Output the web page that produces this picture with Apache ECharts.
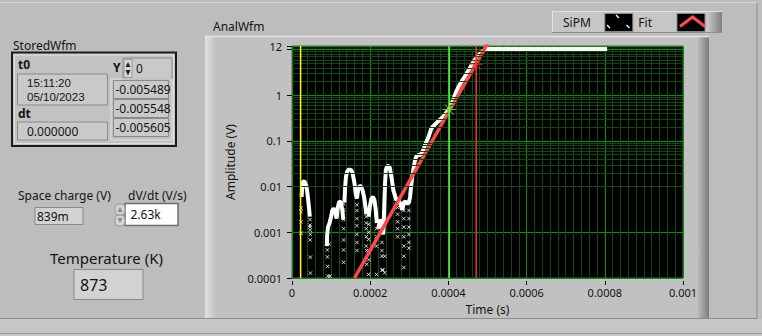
<!DOCTYPE html>
<html><head><meta charset="utf-8">
<script src="https://cdn.jsdelivr.net/npm/echarts@6/dist/echarts.min.js"></script>
<style>html,body{margin:0;padding:0;background:#bdbdbd;} #c{width:762px;height:336px;}</style>
</head><body><div id="c"></div>
<script>
const FONT = "'Noto Sans', 'Open Sans', sans-serif";

// ---- data ----
const timeRange = [0, 0.001];
const timeInterval = 0.0002;
const ampRange = [0.0001, 12];

// SiPM dense band (null = gap where the trace dives below the visible range / breaks into dots)
const sipmBandTime = [
  0.0000245,0.000026,0.000028,0.000031,0.000034,0.000037,0.00004,0.000042,0.000044,0.0000455,null,
  0.000089,0.00009,0.000092,0.000096,0.0001,0.000103,0.000106,0.00011,0.000114,0.000117,0.000121,0.000125,0.000129,0.000131,null,
  0.000134,0.000136,0.000138,0.000141,0.000145,0.00015,0.000154,0.000157,0.00016,0.000163,0.000166,0.000169,0.000173,0.000177,0.000181,0.000185,0.000188,0.00019,null,
  0.000196,0.000199,0.000203,0.000207,0.000211,0.000214,0.000217,null,
  0.00022,0.000224,0.000228,0.000231,0.000233,
  0.000234,0.000236,0.000238,0.00024,0.000243,0.000247,0.00025,0.000253,0.000256,0.000259,0.000263,0.000267,0.00027,0.000274,0.000278,0.000282,0.000286,0.00029,0.000295,0.000299,
  0.000302,0.000305,0.000308,0.000311,0.000314,0.000318,0.000323,0.000328,0.000332,0.000336,0.00034,0.000344,0.000348,0.000352,0.000356,0.000361,0.000366,0.000372,0.000378,0.000384,0.00039,0.000396,0.000402,
  0.000407,0.000412,0.000416,0.00042,0.000425,0.000431,0.000436,0.000442,0.000447,0.000453,0.000458,0.000463,0.000468,0.000473,0.000478,0.000484,0.000489,0.000493,0.000498,0.000502,0.000806
];
const sipmBandAmp = [
  0.006,0.0095,0.0126,0.0132,0.012,0.010,0.0065,0.0045,0.0031,0.0022,null,
  0.0005,0.0009,0.0013,0.0016,0.0022,0.003,0.0033,0.003,0.002,0.0035,0.0048,0.0045,0.003,0.0019,null,
  0.0045,0.010,0.0165,0.0215,0.0235,0.0235,0.021,0.016,0.0115,0.007,0.0055,0.0085,0.0105,0.010,0.008,0.0055,0.0035,0.0025,null,
  0.0022,0.0036,0.0055,0.006,0.005,0.0032,0.0016,null,
  0.0012,0.0016,0.0019,0.0013,0.0009,
  0.0012,0.004,0.012,0.023,0.028,0.0285,0.026,0.019,0.013,0.0085,0.0065,0.005,0.0055,0.0046,0.004,0.0031,0.0045,0.0047,0.0042,0.0045,
  0.006,0.011,0.018,0.025,0.036,0.046,0.049,0.050,0.054,0.064,0.080,0.098,0.115,0.145,0.185,0.21,0.23,0.26,0.29,0.32,0.37,0.43,0.49,
  0.62,0.79,0.98,1.2,1.48,1.83,2.15,2.55,3.05,3.7,4.4,5.2,6.0,6.8,7.7,8.6,9.3,9.8,10.2,10.3,10.3
];

// SiPM isolated samples (columns of dots)
const sipmDotTime = [
  0.000023,0.000023,0.000023,0.000023,
  0.000046,0.000046,0.0000462,0.0000465,0.0000465,0.0000468,0.000047,0.000047,
  0.0000905,0.0000905,0.000091,0.0000915,0.000095,0.000097,
  0.000132,0.000132,0.000132,0.000132,0.000132,0.000132,0.000132,
  0.000166,0.000166,0.000166,0.000166,0.000166,0.000166,0.000166,
  0.00019,0.00019,0.00019,0.00019,0.00019,0.000191,0.000191,
  0.000196,0.000196,0.000196,0.000196,0.000196,0.000196,
  0.000216,0.000216,0.000216,0.000216,
  0.00023,0.00023,0.00023,0.00023,0.000233,0.000237,0.000237,
  0.00027,0.00027,0.00027,0.00027,0.00027,
  0.000286,0.000286,0.000286,0.000286,0.000286,0.000286,0.000286,
  0.000299,0.000299,0.000299,0.000299,0.000299,0.000299
];
const sipmDotAmp = [
  0.0034,0.0028,0.0017,0.00096,
  0.0019,0.00144,0.0013,0.00111,0.00068,0.0009,0.000286,0.000128,
  0.00041,0.00029,0.00018,0.00011,0.00055,0.00011,
  0.0042,0.0031,0.0019,0.0012,0.00068,0.00041,0.00022,
  0.004,0.003,0.002,0.0014,0.0009,0.0006,0.0004,
  0.0022,0.0016,0.0012,0.0008,0.0005,0.0004,0.0002,
  0.0015,0.001,0.0007,0.0004,0.00025,0.00012,
  0.0012,0.0008,0.0005,0.00012,
  0.0006,0.0004,0.0003,0.00015,0.00015,0.0003,0.00013,
  0.0035,0.0025,0.0017,0.0012,0.0008,
  0.003,0.002,0.0013,0.0008,0.0005,0.0003,0.00017,
  0.003,0.002,0.0013,0.0009,0.0006,0.00045
];

// exponential fit
const fitTime = [0.00016,0.0002,0.00024,0.00028,0.00032,0.00036,0.0004,0.00044,0.00048,0.0005];
const fitAmp  = [0.0001,0.000402,0.00161,0.00649,0.0261,0.105,0.421,1.69,6.79,13.6];

// cursors: yellow, green (on SiPM), red (on Fit)
const cursorTime = [0.000022, 0.000402, 0.000471];
const cursorAmp  = [null, 0.49, 4.8];

// ---- build ----
const MAJOR = '#009400';
const MINOR = '#0d4a0d';
const zip = (a, b) => a.map((v, i) => [v, b[i]]);

const ampMinorGrid = [];
for (let e = -4; e <= 0; e++) for (let m = 2; m <= 9; m++) ampMinorGrid.push(+(m * Math.pow(10, e)).toPrecision(3));

const txt = (text, x, y, extra) => Object.assign({
  type: 'text', z: 50, style: Object.assign({text, x, y, fill: '#141414', fontFamily: FONT, fontSize: 12, verticalAlign: 'middle', align: 'left'}, extra || {})
});
const box = (x, y, w, h, fill, stroke, lw) => ({type: 'rect', z: -5, shape: {x, y, width: w, height: h}, style: {fill: fill, stroke: stroke || null, lineWidth: lw || 1}});
const line = (x1, y1, x2, y2, c, w) => ({type: 'line', z: -4, shape: {x1, y1, x2, y2}, style: {stroke: c, lineWidth: w || 1}});
const xmark = (cx, cy) => ({type: 'polyline', z: 60, shape: {points: [[cx-1.5, cy-1.5],[cx+1.5, cy+1.5]]}, style: {stroke: '#fff', lineWidth: 1.2}});

const graphic = [
  box(0, 0, 762, 336, '#bdbdbd'),
  line(0, 2.5, 757, 2.5, '#d6d6d6', 1),
  line(757, 3, 757, 318, '#8c8c8c', 1),
  line(0, 318.5, 757, 318.5, '#8c8c8c', 1),
  box(0, 319, 762, 17, '#c6c6c6'),
  line(0, 333.5, 762, 333.5, '#9a9a9a', 1),
  // graph frame
  box(205, 36, 504, 282, '#c1c1c1'),
  {type: 'rect', z: -4, shape: {x: 205, y: 36, width: 11, height: 282}, style: {fill: new echarts.graphic.LinearGradient(0, 0, 1, 0, [{offset: 0, color: '#e2e2e2'}, {offset: 1, color: '#c1c1c1'}])}},
  {type: 'rect', z: -4, shape: {x: 697, y: 36, width: 12, height: 282}, style: {fill: new echarts.graphic.LinearGradient(0, 0, 1, 0, [{offset: 0, color: '#c1c1c1'}, {offset: 1, color: '#7c7c7c'}])}},
  line(205, 36.5, 709, 36.5, '#e4e4e4', 1.5),
  // legend frame
  box(552, 11, 170, 22, '#c6c6c6'),
  {type: 'rect', z: -4, shape: {x: 708, y: 11, width: 14, height: 22}, style: {fill: new echarts.graphic.LinearGradient(0, 0, 1, 0, [{offset: 0, color: '#c6c6c6'}, {offset: 1, color: '#7e7e7e'}])}},
  line(552, 11.5, 722, 11.5, '#e2e2e2', 1),
  line(552.5, 11, 552.5, 33, '#e2e2e2', 1),
  line(552, 32.5, 722, 32.5, '#8e8e8e', 1),
  // legend icon details
  xmark(617.5, 16.5), xmark(608.5, 26.5), xmark(628, 26.5),
  {type: 'polyline', z: 60, shape: {points: [[680, 26.5],[692.5, 17],[705, 26.5]]}, style: {stroke: '#ff4b4b', lineWidth: 3}},
  // StoredWfm cluster
  box(12, 52.5, 164, 93.5, '#c2c2c2', '#1c1c1c', 2),
  box(14.5, 55, 159, 88.5, null, '#e0e0e0', 1),
  box(17.5, 74, 90, 31, '#c9c9c9', '#8a8a8a', 1),
  box(17.5, 122, 90, 18, '#c9c9c9', '#8a8a8a', 1),
  box(123, 58, 49, 21, '#c9c9c9', '#8a8a8a', 1),
  box(124, 59.5, 8, 18, '#d8d8d8', '#9a9a9a', 1),
  {type: 'polygon', z: 10, shape: {points: [[125.5, 67],[128, 62],[130.5, 67]]}, style: {fill: '#202020'}},
  {type: 'polygon', z: 10, shape: {points: [[125.5, 70],[128, 75.5],[130.5, 70]]}, style: {fill: '#202020'}},
  box(111, 79, 61, 61, null, '#dedede', 1),
  box(113.5, 80.5, 55, 18, '#c9c9c9', '#8a8a8a', 1),
  box(113.5, 99.5, 55, 18, '#c9c9c9', '#8a8a8a', 1),
  box(113.5, 118.5, 55, 18, '#c9c9c9', '#8a8a8a', 1),
  // bottom-left controls
  box(35, 207.5, 48, 17, '#d2d2d2', '#8a8a8a', 1),
  box(125, 203.5, 53, 22, '#ffffff', '#6e6e6e', 1.5),
  {type: 'rect', z: -3, shape: {x: 115, y: 204, width: 10, height: 11, r: 4}, style: {fill: '#d4d4d4', stroke: '#9a9a9a'}},
  {type: 'rect', z: -3, shape: {x: 115, y: 215, width: 10, height: 11, r: 4}, style: {fill: '#d4d4d4', stroke: '#9a9a9a'}},
  {type: 'polygon', z: 10, shape: {points: [[117.5, 212],[120, 207],[122.5, 212]]}, style: {fill: '#8a8a8a'}},
  {type: 'polygon', z: 10, shape: {points: [[117.5, 218],[120, 223],[122.5, 218]]}, style: {fill: '#8a8a8a'}},
  box(74, 269.5, 69, 30, '#d2d2d2', '#8a8a8a', 1),
  // texts
  txt('StoredWfm', 13, 45),
  txt('AnalWfm', 213, 26),
  txt('t0', 18, 64, {fontWeight: 'bold'}),
  txt('15:11:20', 27, 83, {fontFamily: "'Liberation Sans', Arial, sans-serif", fontSize: 11.5}),
  txt('05/10/2023', 27, 97, {fontFamily: "'Liberation Sans', Arial, sans-serif", fontSize: 11.5}),
  txt('dt', 18, 113.5, {fontWeight: 'bold'}),
  txt('0.000000', 27, 131),
  txt('Y', 113, 67, {fontWeight: 'bold'}),
  txt('0', 136, 68.5),
  txt('-0.005489', 115.5, 89.5),
  txt('-0.005548', 115.5, 108.5),
  txt('-0.005605', 115.5, 127.5),
  txt('Space charge (V)', 18, 195),
  txt('839m', 37, 216),
  txt('dV/dt (V/s)', 128, 195),
  txt('2.63k', 130.5, 214.5),
  txt('Temperature (K)', 50, 258, {fontSize: 15}),
  txt('873', 80, 285, {fontSize: 16})
];

const cursorColors = ['#ffff00', '#55ff33', '#ff3030'];
const cursorSeries = cursorTime.map((t, i) => ({
  name: 'cursor' + i, type: 'line', z: 5, silent: true, showSymbol: false, clip: true,
  data: [[t, ampRange[0]], [t, ampRange[1]]],
  lineStyle: {color: cursorColors[i], width: 1.5}
}));

const chart = echarts.init(document.getElementById('c'), null, {renderer: 'svg'});
chart.setOption({
  animation: false,
  backgroundColor: 'transparent',
  graphic: graphic,
  legend: {
    left: 563, top: 13, padding: 0, itemWidth: 28, itemHeight: 18, itemGap: 5, align: 'right', selectedMode: false,
    textStyle: {fontFamily: FONT, fontSize: 12, color: '#141414'},
    data: [
      {name: 'SiPM', icon: 'rect', itemStyle: {color: '#000', borderColor: '#8c8c8c', borderWidth: 1}, textStyle: {padding: [0, 9, 0, 5]}},
      {name: 'Fit', icon: 'rect', itemStyle: {color: '#000', borderColor: '#8c8c8c', borderWidth: 1}, textStyle: {padding: [0, 20, 0, 2]}}
    ]
  },
  grid: {left: 292, right: 79, top: 46, bottom: 58, show: true, backgroundColor: '#000', borderColor: '#5a5a5a', borderWidth: 1},
  xAxis: {
    type: 'value', min: timeRange[0], max: timeRange[1], interval: timeInterval, offset: 3,
    name: 'Time (s)', nameLocation: 'middle', nameGap: 21,
    nameTextStyle: {fontFamily: FONT, fontSize: 12, color: '#141414'},
    axisLine: {show: false},
    axisTick: {show: true, length: 4, lineStyle: {color: '#000'}},
    axisLabel: {fontFamily: FONT, fontSize: 11, color: '#141414', margin: 5, lineHeight: 13,
      formatter: v => String(parseFloat(Number(v).toPrecision(6)))},
    splitLine: {show: true, lineStyle: {color: MAJOR, width: 1}},
    minorTick: {show: false, splitNumber: 10},
    minorSplitLine: {show: true, lineStyle: {color: MINOR, width: 1}}
  },
  yAxis: {
    type: 'log', logBase: 10, min: ampRange[0], max: ampRange[1], offset: 2,
    name: 'Amplitude (V)', nameLocation: 'middle', nameGap: 43, nameRotate: 90,
    nameTextStyle: {fontFamily: FONT, fontSize: 12, color: '#141414'},
    axisLine: {show: false},
    axisTick: {show: true, length: 5, lineStyle: {color: '#000'}},
    axisLabel: {fontFamily: FONT, fontSize: 11, color: '#141414', margin: 8,
      formatter: v => { const n = parseFloat(Number(v).toPrecision(6)); return n === 10 ? '' : String(n); }},
    splitLine: {show: true, lineStyle: {color: MAJOR, width: 1}},
    minorTick: {show: false},
    minorSplitLine: {show: false}
  },
  series: [
    {
      name: 'minorGrid', type: 'line', data: [], z: 1, silent: true,
      markLine: {silent: true, symbol: 'none', label: {show: false}, animation: false,
        lineStyle: {color: MINOR, width: 1, type: 'solid'},
        data: ampMinorGrid.map(v => ({yAxis: v}))}
    },
    {
      name: 'SiPM', type: 'line', data: zip(sipmBandTime, sipmBandAmp), z: 3,
      showSymbol: false, connectNulls: false, clip: true,
      lineStyle: {color: '#ffffff', width: 4}, itemStyle: {color: '#ffffff'}
    },
    {
      name: 'SiPM', type: 'scatter', data: zip(sipmDotTime, sipmDotAmp), z: 3,
      symbol: 'path://M0,0L10,10M10,0L0,10', symbolSize: 3.5,
      itemStyle: {color: '#ffffff', borderColor: '#ffffff', borderWidth: 1}
    },
    {
      name: 'Fit', type: 'line', data: zip(fitTime, fitAmp), z: 4,
      showSymbol: false, clip: true,
      lineStyle: {color: '#ff4848', width: 3.5}, itemStyle: {color: '#ff4848'}
    },
    ...cursorSeries,
    {
      name: 'cursorMarks', type: 'scatter', z: 6, silent: true,
      symbol: 'path://M0,6L12,6M6,1L6,11M2,2L10,10M10,2L2,10', symbolSize: 13,
      data: [
        {value: [cursorTime[1], cursorAmp[1]], itemStyle: {color: 'rgba(0,0,0,0)', borderColor: '#55ff40', borderWidth: 1}},
        {value: [cursorTime[2], cursorAmp[2]], itemStyle: {color: 'rgba(0,0,0,0)', borderColor: '#ff3030', borderWidth: 1}}
      ]
    }
  ]
});
</script>
</body></html>
